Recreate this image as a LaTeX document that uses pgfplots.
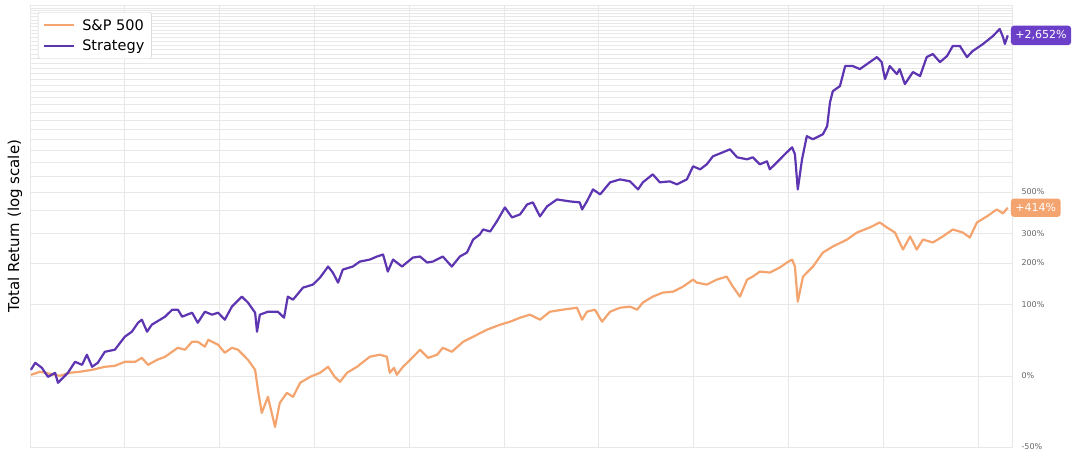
\documentclass[border=0pt]{standalone}
\usepackage{pgfplots}
\pgfplotsset{compat=1.18}
\usepackage{fontspec}
\setmainfont{DejaVu Sans}
\definecolor{spx}{HTML}{F4A46E}
\definecolor{strat}{HTML}{5E35B1}
\definecolor{stratbox}{HTML}{6B3FC8}
\definecolor{gridc}{HTML}{E8E8E8}
\begin{document}
\begin{tikzpicture}
\path[use as bounding box] (-30pt,-13pt) rectangle (1050pt,447pt);
\begin{axis}[
  at={(0pt,0pt)}, anchor=south west,
  scale only axis, width=982pt, height=442pt,
  ymode=log, xmin=2004, xmax=2024.72, ymin=0.5, ymax=37,
  xtick={2004,2006,...,2024}, xticklabels={},
  ytick={0.5,1,2,3,4,6},
  yticklabels={-50\%,0\%,100\%,200\%,300\%,500\%},
  minor ytick={5,7,8,...,37},
  yticklabel pos=right,
  grid=both,
  major grid style={draw=gridc, line width=0.6pt},
  minor grid style={draw=gridc, line width=0.6pt},
  major tick length=0pt, minor tick length=0pt,
  axis line style={draw=gridc},
  yticklabel style={font=\fontsize{8}{9}\selectfont, text=black!60, xshift=6pt},
  clip=false,
  legend cell align=left,
  legend style={at={(0.008,0.984)}, anchor=north west, font=\fontsize{14.5}{17}\selectfont,
    draw=black!20, fill=white, rounded corners=2pt, inner xsep=5pt, inner ysep=5pt,
    row sep=4pt, /tikz/every odd column/.append style={column sep=5pt},
    /tikz/every even column/.append style={column sep=4pt}},
  legend image code/.code={\draw[#1, line width=2.2pt] (0pt,0pt) -- (30pt,0pt);},
]
\addplot[spx, line width=2.2pt, line join=round] table {
2004.02 1.010
2004.21 1.040
2004.42 1.020
2004.63 1.000
2004.84 1.030
2005.05 1.040
2005.31 1.060
2005.58 1.092
2005.79 1.102
2006.00 1.146
2006.22 1.146
2006.36 1.191
2006.49 1.113
2006.68 1.168
2006.85 1.204
2007.12 1.314
2007.27 1.289
2007.42 1.393
2007.54 1.393
2007.69 1.328
2007.76 1.420
2007.97 1.353
2008.11 1.252
2008.26 1.314
2008.39 1.289
2008.60 1.168
2008.75 1.060
2008.81 0.872
2008.89 0.697
2009.02 0.815
2009.11 0.684
2009.17 0.608
2009.27 0.768
2009.42 0.847
2009.55 0.815
2009.70 0.934
2009.91 0.990
2010.12 1.030
2010.29 1.092
2010.43 0.990
2010.54 0.943
2010.69 1.030
2010.90 1.092
2011.17 1.204
2011.38 1.228
2011.53 1.204
2011.59 1.030
2011.68 1.081
2011.74 1.010
2011.87 1.092
2012.02 1.168
2012.23 1.289
2012.40 1.191
2012.59 1.228
2012.71 1.314
2012.90 1.264
2013.14 1.393
2013.35 1.463
2013.64 1.567
2013.92 1.645
2014.13 1.694
2014.34 1.761
2014.55 1.814
2014.76 1.727
2014.97 1.867
2015.24 1.904
2015.54 1.941
2015.65 1.727
2015.75 1.867
2015.92 1.904
2016.07 1.694
2016.24 1.867
2016.45 1.941
2016.66 1.961
2016.81 1.904
2016.93 2.039
2017.14 2.162
2017.35 2.248
2017.57 2.270
2017.78 2.384
2017.99 2.551
2018.07 2.478
2018.28 2.431
2018.49 2.551
2018.70 2.628
2018.83 2.384
2018.98 2.162
2019.13 2.551
2019.25 2.628
2019.40 2.760
2019.61 2.733
2019.82 2.869
2019.97 3.013
2020.08 3.102
2020.14 2.898
2020.20 2.059
2020.31 2.628
2020.52 2.898
2020.73 3.322
2020.94 3.523
2021.24 3.770
2021.45 4.038
2021.72 4.240
2021.93 4.452
2022.08 4.240
2022.25 4.038
2022.42 3.420
2022.57 3.884
2022.71 3.420
2022.84 3.770
2023.05 3.663
2023.26 3.884
2023.47 4.157
2023.68 4.038
2023.83 3.845
2023.98 4.452
2024.19 4.722
2024.40 5.054
2024.53 4.862
2024.63 5.140
};
\addlegendentry{S\&P 500}
\addplot[strat, line width=2.2pt, line join=round] table {
2004.02 1.060
2004.11 1.135
2004.25 1.081
2004.38 0.990
2004.53 1.030
2004.59 0.934
2004.80 1.030
2004.95 1.146
2005.10 1.113
2005.20 1.228
2005.31 1.092
2005.43 1.135
2005.58 1.264
2005.79 1.289
2006.00 1.463
2006.15 1.537
2006.28 1.677
2006.36 1.727
2006.47 1.537
2006.57 1.645
2006.85 1.779
2007.00 1.904
2007.12 1.904
2007.21 1.779
2007.42 1.849
2007.54 1.677
2007.69 1.867
2007.84 1.814
2007.97 1.849
2008.11 1.727
2008.26 1.961
2008.47 2.162
2008.60 2.039
2008.75 1.849
2008.79 1.537
2008.85 1.814
2009.02 1.867
2009.23 1.867
2009.36 1.761
2009.44 2.162
2009.55 2.099
2009.76 2.360
2009.97 2.431
2010.12 2.602
2010.29 2.898
2010.39 2.733
2010.50 2.478
2010.60 2.813
2010.81 2.898
2010.96 3.042
2011.17 3.102
2011.32 3.195
2011.45 3.258
2011.55 2.760
2011.66 3.102
2011.85 2.898
2011.95 3.013
2012.08 3.163
2012.23 3.195
2012.38 3.013
2012.50 3.042
2012.71 3.195
2012.90 2.898
2013.07 3.195
2013.22 3.322
2013.35 3.770
2013.49 3.960
2013.56 4.157
2013.71 4.078
2013.85 4.496
2014.02 5.154
2014.17 4.674
2014.34 4.815
2014.49 5.307
2014.61 5.412
2014.76 4.722
2014.91 5.207
2015.12 5.571
2015.39 5.465
2015.60 5.412
2015.65 5.054
2015.75 5.465
2015.88 6.143
2016.03 5.852
2016.24 6.579
2016.45 6.772
2016.66 6.643
2016.83 6.143
2016.93 6.579
2017.14 7.113
2017.29 6.579
2017.50 6.643
2017.65 6.452
2017.86 6.772
2017.99 7.692
2018.14 7.467
2018.28 7.843
2018.41 8.481
2018.62 8.817
2018.77 9.077
2018.92 8.396
2019.13 8.233
2019.25 8.396
2019.40 7.843
2019.55 8.076
2019.61 7.467
2019.76 7.998
2019.97 8.817
2020.08 9.257
2020.14 8.647
2020.20 6.143
2020.29 8.233
2020.39 10.31
2020.52 10.01
2020.73 10.51
2020.82 11.37
2020.88 14.36
2020.94 15.99
2021.09 16.80
2021.20 20.42
2021.36 20.42
2021.51 19.82
2021.66 20.81
2021.87 22.28
2021.97 21.22
2022.04 17.98
2022.14 20.42
2022.29 18.88
2022.35 19.82
2022.46 17.13
2022.63 19.26
2022.78 18.52
2022.92 22.28
2023.05 22.95
2023.20 21.22
2023.35 22.51
2023.47 24.82
2023.62 24.82
2023.77 22.28
2023.89 23.63
2024.11 25.31
2024.32 27.37
2024.46 29.29
2024.53 27.09
2024.57 25.31
2024.63 27.52
};
\addlegendentry{Strategy}
\node[fill=stratbox, text=white, rounded corners=3pt, anchor=west, inner xsep=4.5pt, inner ysep=5pt,
  font=\fontsize{11}{12}\selectfont] at (axis cs:2024.63,27.52) [xshift=3pt] {+2,652\%};
\node[fill=spx, text=white, rounded corners=3pt, anchor=west, inner xsep=4.5pt, inner ysep=5pt,
  font=\fontsize{11}{12}\selectfont] at (axis cs:2024.63,5.14) [xshift=3pt] {+414\%};
\end{axis}
\node[rotate=90, font=\fontsize{15}{17}\selectfont] at (-15pt,221pt) {Total Return (log scale)};
\end{tikzpicture}
\end{document}
